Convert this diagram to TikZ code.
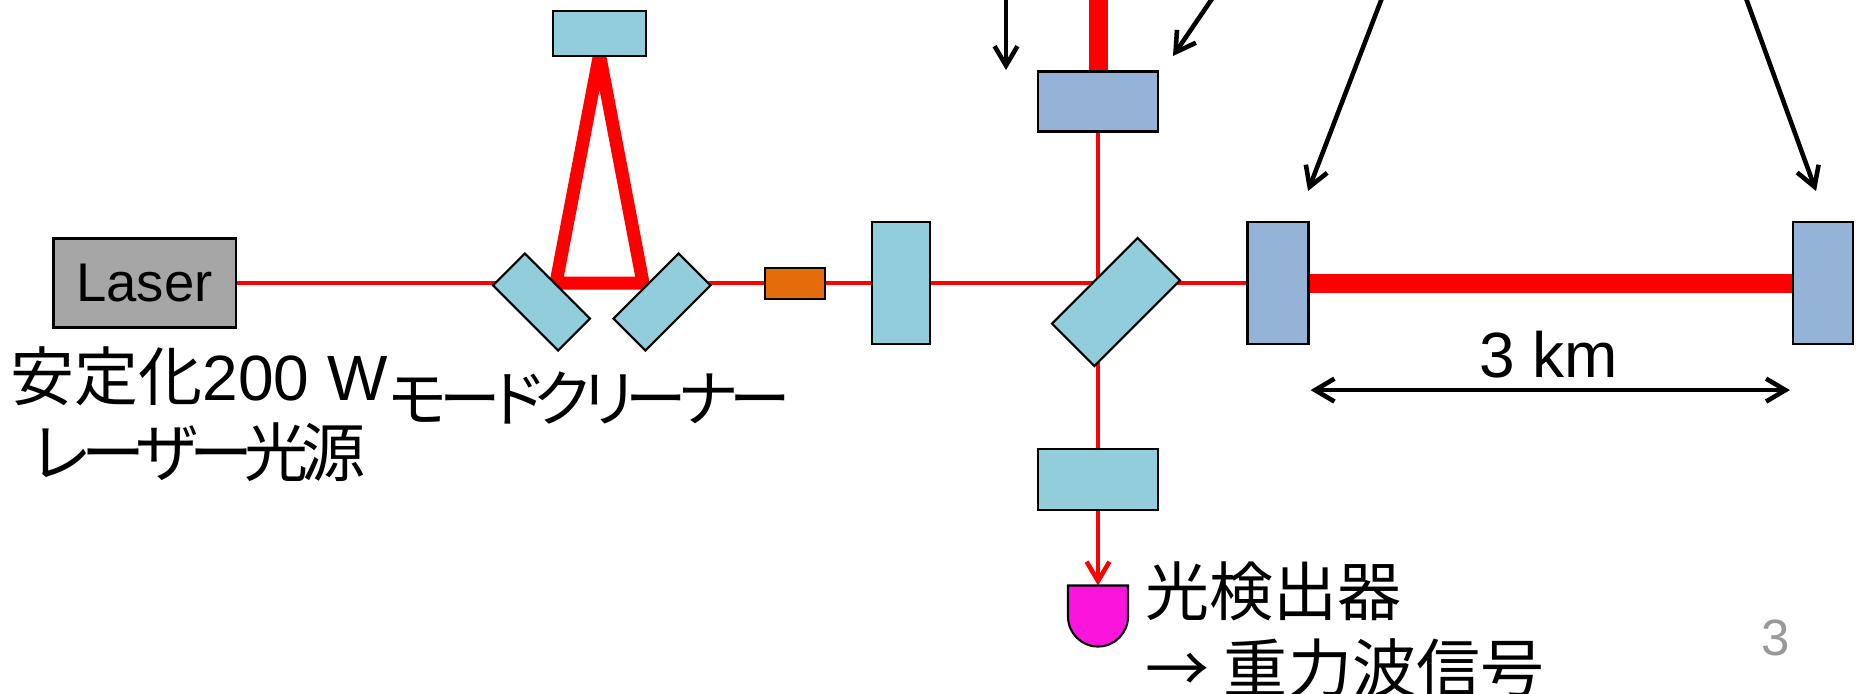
\documentclass[tikz,border=0pt]{standalone}
\usepackage{fontspec}
\setmainfont{Liberation Sans}
\newfontfamily\jp[RawFeature=+palt]{Noto Sans CJK JP}
\newfontfamily\jpk[RawFeature=+palt, LetterSpace=-12]{Noto Sans CJK JP}
\usepackage{tikz}
\usetikzlibrary{arrows.meta}
\usetikzlibrary{backgrounds}
\usetikzlibrary{calc}
\definecolor{mcblue}{HTML}{92CDDC}
\definecolor{tmblue}{HTML}{95B3D7}
\definecolor{eomorange}{HTML}{E46C0A}
\definecolor{lasergray}{HTML}{A6A6A6}
\definecolor{pdmag}{HTML}{FA14DC}
\definecolor{pggray}{HTML}{999999}

\begin{document}
\begin{tikzpicture}[x=0.01cm, y=-0.01cm]
\tikzstyle{opt}=[draw, line width=0.6pt, inner sep=0pt, fill=mcblue]
\tikzstyle{tm}=[opt, fill=tmblue]
\tikzstyle{thin}=[red, line width=1.3pt]
\tikzstyle{fat}=[red, line width=5.4pt]
\tikzstyle{mc}=[red, line width=3.7pt, line join=round]
\tikzstyle{ptr}=[line width=1.3pt, line cap=round, -{Straight Barb[length=5.5pt, width=6.5pt]}]
\tikzstyle{jtxt}=[inner sep=0pt, font=\fontsize{18.2}{21.5}\selectfont]
\useasboundingbox (0,0) rectangle (1864,693);
\node[opt, fill=lasergray, minimum width=1.82cm, minimum height=0.89cm, font=\fontsize{15.5}{18}\selectfont] (laser) at (144.5,283) {Laser};
\node[opt, minimum width=0.93cm, minimum height=0.45cm] (mctop) at (599.5,33.5) {};
\node[opt, minimum width=0.92cm, minimum height=0.45cm, rotate=-45] (mcl) at (541.5,302) {};
\node[opt, minimum width=0.92cm, minimum height=0.45cm, rotate=45] (mcr) at (662,302) {};
\node[opt, fill=eomorange, minimum width=0.6cm, minimum height=0.31cm] (eom) at (795,283.5) {};
\node[opt, minimum width=0.58cm, minimum height=1.22cm] (prm) at (901,283) {};
\node[opt, minimum width=1.21cm, minimum height=0.6cm, rotate=45] (bs) at (1116,302) {};
\node[tm, minimum width=1.2cm, minimum height=0.6cm] (etmy) at (1098,101.5) {};
\node[opt, minimum width=1.2cm, minimum height=0.61cm] (srm) at (1098,479.5) {};
\node[tm, minimum width=0.61cm, minimum height=1.22cm] (itmx) at (1278,283) {};
\node[tm, minimum width=0.6cm, minimum height=1.22cm] (etmx) at (1823,283) {};
\coordinate (mclh) at (556,283);
\coordinate (mcrh) at (643,283);
\coordinate (mcth) at (599.5,55);
\coordinate (bsh) at (1098,283);
\coordinate (ytop) at (1098,-10);
\coordinate (det) at (1098,585.5);
% photodetector
\draw[line width=0.6pt, fill=pdmag] ($(det)+(-30,0)$) -- ($(det)+(30,0)$) -- ++(0,31) arc[start angle=0, end angle=180, radius=30] -- cycle;
\begin{scope}[on background layer]
\draw[thin] (laser.east) -- (bsh) -- (itmx.west);
\draw[mc] (mclh) -- (mcth) -- (mcrh) -- cycle;
\draw[fat] (itmx.east) -- (etmx.west);
\draw[fat] (ytop) -- (etmy.north);
\draw[thin] (etmy.south) -- (srm.north);
\draw[thin, -{Straight Barb[length=5.5pt, width=6.5pt]}] (srm.south) -- (det);
\end{scope}
\coordinate (p1s) at (1006,-10); \coordinate (p1e) at (1006,70);
\coordinate (p2s) at (1218,-10); \coordinate (p2e) at (1173,56);
\coordinate (p3s) at (1385,-10); \coordinate (p3e) at (1308,191);
\coordinate (p4s) at (1743,-10); \coordinate (p4e) at (1816,191);
\foreach \s/\e in {p1s/p1e, p2s/p2e, p3s/p3e, p4s/p4e}{
\draw[ptr] (\s) -- (\e);}
\draw[ptr, {Straight Barb[length=5.5pt, width=6.5pt]}-{Straight Barb[length=5.5pt, width=6.5pt]}] ($(itmx.south east)+(1,45)$) -- ($(etmx.south west)+(-2,45)$);
\node[jtxt, align=center] (srclbl) at (199,414) {{\jp 安定化}200 W\\{\jpk レーザー光源}};
\node[jtxt, font=\fontsize{17.5}{21.5}\selectfont\jpk] (mclbl) at (590,398) {モードクリーナー};
\node[jtxt] (armlbl) at (1549,355) {3 km};
\node[jtxt, font=\fontsize{18.2}{22}\selectfont\jp, align=left, anchor=north west] (pdlbl) at (1145,561) {光検出器\\→ 重力波信号};
\node[font=\fontsize{14.5}{16}\selectfont, text=pggray] (pgnum) at (1776,638) {3};
\end{tikzpicture}
\end{document}
